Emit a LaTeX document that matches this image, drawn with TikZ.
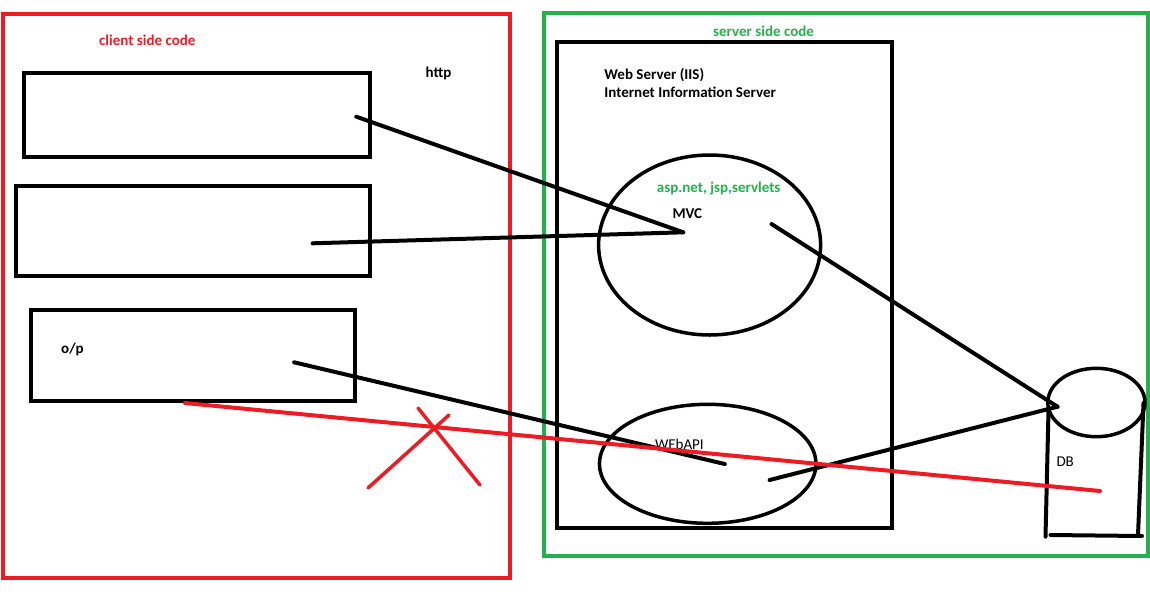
\documentclass[tikz,border=0pt]{standalone}
\usepackage{fontspec}
\setmainfont{Carlito}
\usetikzlibrary{shapes.geometric}
\definecolor{paintred}{RGB}{237,28,36}
\definecolor{paintgreen}{RGB}{34,177,76}
\tikzset{
    frame/.style={draw, line width=4pt, inner sep=0pt},
    oval/.style={ellipse, draw, line width=3.5pt, inner sep=0pt},
    wire/.style={line width=4pt, line cap=round},
    txt/.style={anchor=base west, inner sep=0pt, font=\fontsize{15}{18}\selectfont},
    btxt/.style={txt, font=\bfseries\fontsize{15}{18}\selectfont}
}

\begin{document}
\begin{tikzpicture}[x=1pt, y=-1pt]
    \useasboundingbox (0,0) rectangle (1150,614);
    \node[frame, draw=paintred, minimum width=507pt, minimum height=564pt] at (256.5,296) (CLIENT) {};
    \node[frame, draw=paintgreen, minimum width=604pt, minimum height=542.5pt] at (845.5,284.5) (SERVER) {};
    \node[frame, minimum width=345.5pt, minimum height=84.5pt] at (197.2,114.8) (CBOX1) {};
    \node[frame, minimum width=354pt, minimum height=90.5pt] at (193.2,231.2) (CBOX2) {};
    \node[frame, minimum width=323.5pt, minimum height=91pt] at (193.2,355.5) (COP) {};
    \node[frame, minimum width=334.5pt, minimum height=486.6pt] at (724.7,285) (IIS) {};
    \node[oval, minimum width=222pt, minimum height=180pt] at (709.6,245) (MVC) {};
    \node[oval, minimum width=216.5pt, minimum height=119pt] at (707.7,463.8) (WAPI) {};
    \node[oval, minimum width=97.2pt, minimum height=68.4pt] at (1096.4,402.5) (DB) {};

    \node[btxt, text=paintred] at (99,45.3) (CLIENTLBL) {client side code};
    \node[btxt] at (425.5,77.3) (HTTP) {http};
    \node[btxt, text=paintgreen] at (713,36) (SERVERLBL) {server side code};
    \node[btxt] at (604.2,79.3) (IISLBL1) {Web Server (IIS)};
    \node[btxt] at (604.2,97.3) (IISLBL2) {Internet Information Server};
    \node[btxt, text=paintgreen] at (656.7,192.3) (TECH) {asp.net, jsp,servlets};
    \node[btxt] at (672.3,218.3) (MVCLBL) {MVC};
    \node[btxt] at (61,353.3) (OPLBL) {o/p};
    \node[txt] at (654.8,449) (WAPILBL) {WEbAPI};
    \node[txt] at (1056.3,466) (DBLBL) {DB};

    \coordinate (REQ1) at (356.3,116.7);
    \coordinate (REQ2) at (312.6,243.3);
    \coordinate (OPREQ) at (294.1,362.3);
    \coordinate (MVCIN) at (683.2,232.3);
    \coordinate (MVCOUT) at (771.5,224);
    \coordinate (WAPIIN) at (724.8,464);
    \coordinate (WAPIOUT) at (769.6,480);
    \coordinate (DBIN) at (1057.5,406.7);
    \coordinate (NOSTART) at (185,403);
    \coordinate (NOEND) at (1100,491);
    \coordinate (XA1) at (368,488);
    \coordinate (XA2) at (449,415);
    \coordinate (XB1) at (418,408);
    \coordinate (XB2) at (480,485);
    \coordinate (DBL1) at (1048.5,410);
    \coordinate (DBL2) at (1045.5,536.7);
    \coordinate (DBR1) at (1143.5,403);
    \coordinate (DBR2) at (1138,535);
    \coordinate (DBB1) at (1050.5,535);
    \coordinate (DBB2) at (1142,536);

    \draw[wire] (REQ1) -- (MVCIN);
    \draw[wire] (REQ2) -- (MVCIN);
    \draw[wire] (OPREQ) -- (WAPIIN);
    \draw[wire] (MVCOUT) -- (DBIN);
    \draw[wire] (WAPIOUT) -- (DBIN);
    \draw[wire] (DBL1) -- (DBL2);
    \draw[wire] (DBR1) -- (DBR2);
    \draw[wire] (DBB1) -- (DBB2);
    \draw[wire, paintred] (NOSTART) -- (NOEND);
    \draw[wire, paintred, line width=3.5pt] (XA1) -- (XA2);
    \draw[wire, paintred, line width=3.5pt] (XB1) -- (XB2);
\end{tikzpicture}
\end{document}
